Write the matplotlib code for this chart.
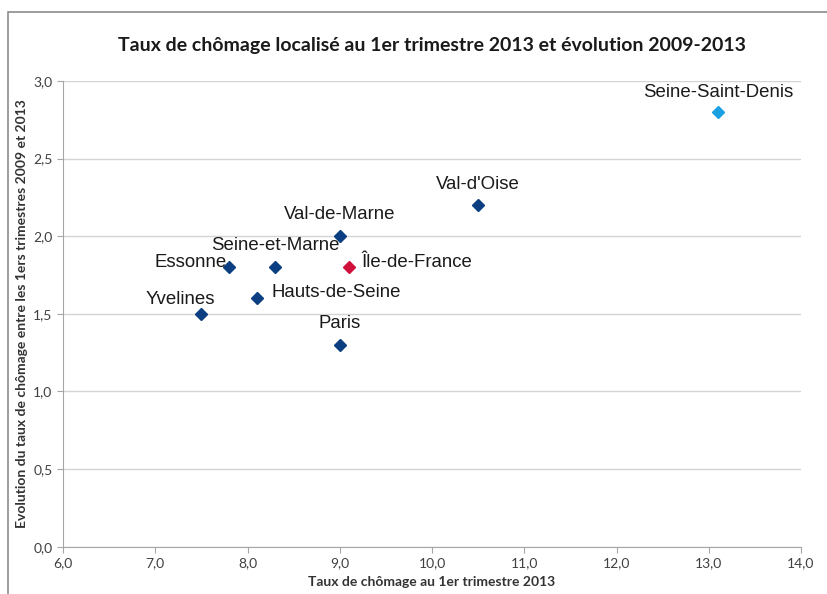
import matplotlib
matplotlib.use("Agg")
import matplotlib.pyplot as plt
from matplotlib.ticker import FuncFormatter, MultipleLocator
from matplotlib.patches import Rectangle

# départements d'Île-de-France
noms = ["Seine-Saint-Denis", "Val-d'Oise", "Val-de-Marne", "Seine-et-Marne",
        "Essonne", "Île-de-France", "Hauts-de-Seine", "Yvelines", "Paris"]
taux_2013 = [13.1, 10.5, 9.0, 8.3, 7.8, 9.1, 8.1, 7.5, 9.0]
evolution = [2.8, 2.2, 2.0, 1.8, 1.8, 1.8, 1.6, 1.5, 1.3]
couleurs = ["#1BA1E2", "#0B3F82", "#0B3F82", "#0B3F82", "#0B3F82",
            "#D0103A", "#0B3F82", "#0B3F82", "#0B3F82"]

# position des étiquettes (décalage en pixels, alignement)
decalages = [(0, 20, "center"), (0, 21, "center"), (0, 22, "center"),
             (0, 22, "center"), (-2, 5, "right"), (12, 5, "left"),
             (15, 6, "left"), (-21, 14, "center"), (0, 21, "center")]

plt.rcParams['font.family'] = ['Lato', 'DejaVu Sans']

fig = plt.figure(figsize=(8.27, 5.94), dpi=100)
ax = fig.add_axes([0.0762, 0.0796, 0.9686 - 0.0762, 0.8636 - 0.0796])

# cadre du graphique
fig.patches.append(Rectangle((8 / 827, -0.1), 1.2, 1 - 12 / 594 + 0.1,
                             transform=fig.transFigure, fill=False,
                             edgecolor="#8C8C8C", linewidth=1.2))

for x, y, c in zip(taux_2013, evolution, couleurs):
    ax.plot(x, y, marker="D", color=c, markersize=6, linestyle="none", zorder=3)

for nom, x, y, (dx, dy, ha) in zip(noms, taux_2013, evolution, decalages):
    ax.annotate(nom, (x, y), xytext=(dx, dy), textcoords="offset pixels",
                ha=ha, va="center", fontsize=13.4, color="#1A1A1A",
                family=["Liberation Sans", "DejaVu Sans"])

ax.set_xlim(6, 14)
ax.set_ylim(0, 3)
ax.xaxis.set_major_locator(MultipleLocator(1))
ax.yaxis.set_major_locator(MultipleLocator(0.5))
virgule = FuncFormatter(lambda v, p: f"{v:.1f}".replace(".", ","))
ax.xaxis.set_major_formatter(virgule)
ax.yaxis.set_major_formatter(virgule)

ax.grid(axis="y", color="#D4D4D4", linewidth=1)
ax.set_axisbelow(True)
for s in ["top", "right"]:
    ax.spines[s].set_visible(False)
for s in ["left", "bottom"]:
    ax.spines[s].set_color("#A6A6A6")
ax.tick_params(colors="#A6A6A6", labelcolor="#404040", labelsize=10,
               length=4, direction="out")

fig.text(0.522, 0.924, "Taux de chômage localisé au 1er trimestre 2013 et évolution 2009-2013",
         ha="center", va="center", fontsize=14, fontweight="bold", color="#1A1A1A")
fig.text(0.522, 0.020, "Taux de chômage au 1er trimestre 2013",
         ha="center", va="center", fontsize=10, fontweight="bold", color="#333333")
fig.text(0.027, 0.472, "Evolution du taux de chômage entre les 1ers trimestres 2009 et 2013",
         ha="center", va="center", rotation=90, fontsize=10, fontweight="bold",
         color="#333333")

fig.savefig("out.png", dpi=100)
